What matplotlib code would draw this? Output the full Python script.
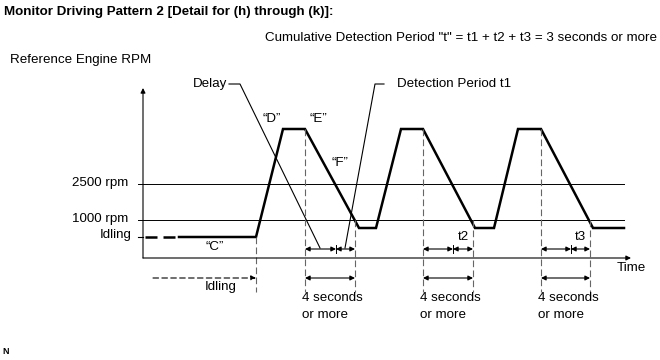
import matplotlib.pyplot as plt

plt.rcParams['font.family'] = ['Liberation Sans', 'DejaVu Sans']

# schematic values (diagram units: x = time, y = rpm level, y grows downward)
level_names = ['2500 rpm', '1000 rpm', 'Idling']
level_y = [184, 220, 237]
wave_t = [179, 256, 283, 305, 359, 376, 401, 423, 475, 494, 518, 541, 593, 624]
wave_y = [237, 237, 129, 129, 228, 228, 129, 129, 228, 228, 129, 129, 228, 228]
idle_dash_t = [145, 175]
det_start = [305, 423, 541]
det_split = [336, 453, 571]
det_end = [355, 473, 590]
det_labels = ['', 't2', 't3']
idle_start = 153

axis_x0, axis_y0 = 143, 258
axis_top, axis_right = 88, 631

fig = plt.figure(figsize=(6.6, 3.6), dpi=100)
ax = fig.add_axes([0, 0, 1, 1])
ax.set_xlim(0, 660)
ax.set_ylim(360, 0)
ax.axis('off')

fs = 9.6
k = 'black'


def arrow(x0, y0, x1, y1, style='<|-|>', ls='-'):
    ax.annotate('', xy=(x1, y1), xytext=(x0, y0),
                arrowprops=dict(arrowstyle=style, color=k, lw=0.8, ls=ls,
                                mutation_scale=7, shrinkA=0, shrinkB=0))


# axes with arrows
arrow(axis_x0, axis_y0, axis_x0, axis_top, '-|>')
arrow(axis_x0, axis_y0, axis_right, axis_y0, '-|>')

# reference levels
for name, y in zip(level_names, level_y):
    if name == 'Idling':
        ax.plot([138, 143], [y, y], color=k, lw=0.8)
        ax.text(132, y - 2, name, ha='right', va='center', fontsize=fs)
    else:
        ax.plot([138, 624], [y, y], color=k, lw=0.7)
        ax.text(128, y - 1, name, ha='right', va='center', fontsize=fs)

# engine rpm pattern
ax.plot(idle_dash_t, [wave_y[0]] * 2, color=k, lw=1.8, ls=(0, (4.8, 2.4)))
ax.plot(wave_t, wave_y, color=k, lw=1.8, solid_joinstyle='miter')

# dashed guide lines
gcol = '#666666'
ax.plot([wave_t[1]] * 2, [wave_y[1], 292], color=gcol, lw=0.8, ls=(0, (6, 3)))
for s, e in zip(det_start, det_end):
    ax.plot([s, s], [129, 292], color=gcol, lw=0.8, ls=(0, (6, 3)))
    ax.plot([e, e], [220, 292], color=gcol, lw=0.8, ls=(0, (6, 3)))

# detection period arrows
for s, m, e, lab in zip(det_start, det_split, det_end, det_labels):
    arrow(s, 249, m, 249)
    arrow(m, 249, e, 249)
    ax.plot([m, m], [245, 253], color=k, lw=0.7)
    arrow(s, 278, e, 278)
    ax.text(s - 3, 298, '4 seconds', ha='left', va='center', fontsize=fs)
    ax.text(s - 3, 315, 'or more', ha='left', va='center', fontsize=fs)
    if lab:
        ax.text(e - 10, 237, lab, ha='center', va='center', fontsize=fs)

# idling arrow
arrow(idle_start, 278, wave_t[1], 278, '-|>', ls=(0, (5, 3)))
ax.text(221, 287, 'Idling', ha='center', va='center', fontsize=fs)

# leaders
ax.plot([229, 240, 320], [84, 84, 248], color=k, lw=0.8)
ax.text(227, 84, 'Delay', ha='right', va='center', fontsize=fs)
ax.plot([384, 375, 345], [84, 84, 248], color=k, lw=0.8)
ax.text(397, 84, 'Detection Period t1', ha='left', va='center', fontsize=fs)

# pattern labels
ax.text(215, 247, '\u201cC\u201d', ha='center', va='center', fontsize=fs)
ax.text(272, 119, '\u201cD\u201d', ha='center', va='center', fontsize=fs)
ax.text(318, 119, '\u201cE\u201d', ha='center', va='center', fontsize=fs)
ax.text(340, 163, '\u201cF\u201d', ha='center', va='center', fontsize=fs)
ax.text(631, 268, 'Time', ha='center', va='center', fontsize=fs)

# header texts
ax.text(4, 12, 'Monitor Driving Pattern 2 [Detail for (h) through (k)]:',
        ha='left', va='center', fontsize=fs, fontweight='bold')
ax.text(657, 38, 'Cumulative Detection Period "t" = t1 + t2 + t3 = 3 seconds or more',
        ha='right', va='center', fontsize=fs)
ax.text(10, 60, 'Reference Engine RPM', ha='left', va='center', fontsize=fs)
ax.text(2, 352, 'N', ha='left', va='center', fontsize=6.5, fontweight='bold')

fig.savefig('out.png', dpi=100)
